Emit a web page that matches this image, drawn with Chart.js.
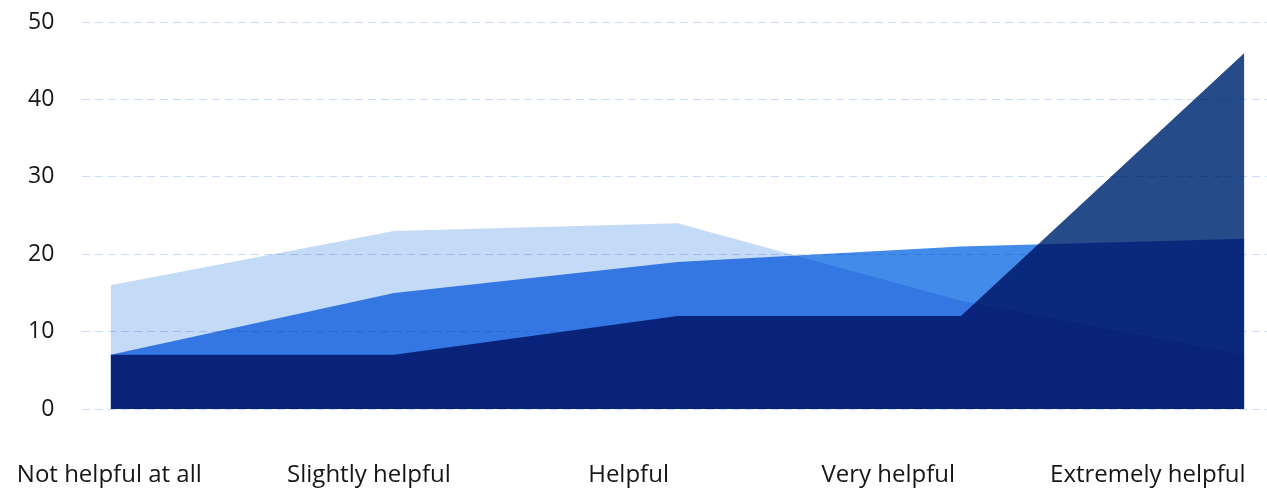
<!DOCTYPE html>
<html>
<head>
<meta charset="utf-8">
<script src="https://cdn.jsdelivr.net/npm/chart.js@4"></script>
<style>
    html, body { margin: 0; padding: 0; background: #fff; }
    #wrap { width: 1267px; height: 488px; position: relative; }
</style>
</head>
<body>
<div id="wrap"><canvas id="helpChart"></canvas></div>
<script>
// Data
const categories = ['Not helpful at all', 'Slightly helpful', 'Helpful', 'Very helpful', 'Extremely helpful'];
const lightSeries = [16, 23, 24, 14, 7];
const mediumSeries = [7, 15, 19, 21, 22];
const darkSeries = [7, 7, 12, 12, 46];
const yTicks = [0, 10, 20, 30, 40, 50];

const toPoints = (arr) => arr.map((v, i) => ({ x: i, y: v }));

// lower order = drawn on top
const area = (data, color, order) => ({
    data: toPoints(data),
    order,
    backgroundColor: color,
    borderColor: 'rgba(0,0,0,0)',
    borderWidth: 0,
    pointRadius: 0,
    tension: 0,
    fill: 'origin',
});

const family = '"Open Sans", Lato, sans-serif';
const noPad = (axis) => { axis.paddingLeft = 0; axis.paddingRight = 0; axis.paddingTop = 0; axis.paddingBottom = 0; };

// white backdrop + multiply blending for the overlapping areas
const blendPlugin = {
    id: 'blend',
    beforeDraw(chart) {
        const { ctx, width, height } = chart;
        ctx.save();
        ctx.fillStyle = '#fff';
        ctx.fillRect(0, 0, width, height);
        ctx.restore();
    },
    beforeDatasetsDraw(chart) {
        chart.ctx.save();
        chart.ctx.globalCompositeOperation = 'multiply';
    },
    afterDatasetsDraw(chart) {
        chart.ctx.restore();
    },
};

new Chart(document.getElementById('helpChart'), {
    type: 'line',
    data: {
        datasets: [
            area(lightSeries, '#c4dbf8', 3),
            area(mediumSeries, '#438be9', 2),
            area(darkSeries, '#254b89', 1),
        ],
    },
    plugins: [blendPlugin],
    options: {
        responsive: true,
        maintainAspectRatio: false,
        animation: false,
        layout: { padding: { top: 22, right: 0, bottom: 0, left: 0 } },
        plugins: { legend: { display: false }, tooltip: { enabled: false } },
        scales: {
            x: {
                type: 'linear', display: false,
                min: -0.1, max: 4.08,
            },
            xLabels: {
                type: 'linear', position: 'bottom',
                min: -0.104, max: 4.459,
                afterBuildTicks: (axis) => { axis.ticks = categories.map((c, i) => ({ value: i })); },
                afterFit: (axis) => { noPad(axis); axis.height = 79; },
                grid: { display: false, drawTicks: false },
                border: { display: false },
                ticks: {
                    color: '#161616', font: { family, size: 24 }, padding: 52, maxRotation: 0, autoSkip: false,
                    callback: (v) => categories[v],
                },
            },
            y: {
                min: 0, max: 50,
                afterBuildTicks: (axis) => { axis.ticks = yTicks.map(v => ({ value: v })); },
                afterFit: noPad,
                grid: { color: '#c9ddf8', lineWidth: 1, drawTicks: false },
                border: { display: false, dash: [8, 5] },
                ticks: { color: '#161616', font: { family, size: 23 }, padding: 28 },
            },
        },
    },
});
</script>
</body>
</html>
